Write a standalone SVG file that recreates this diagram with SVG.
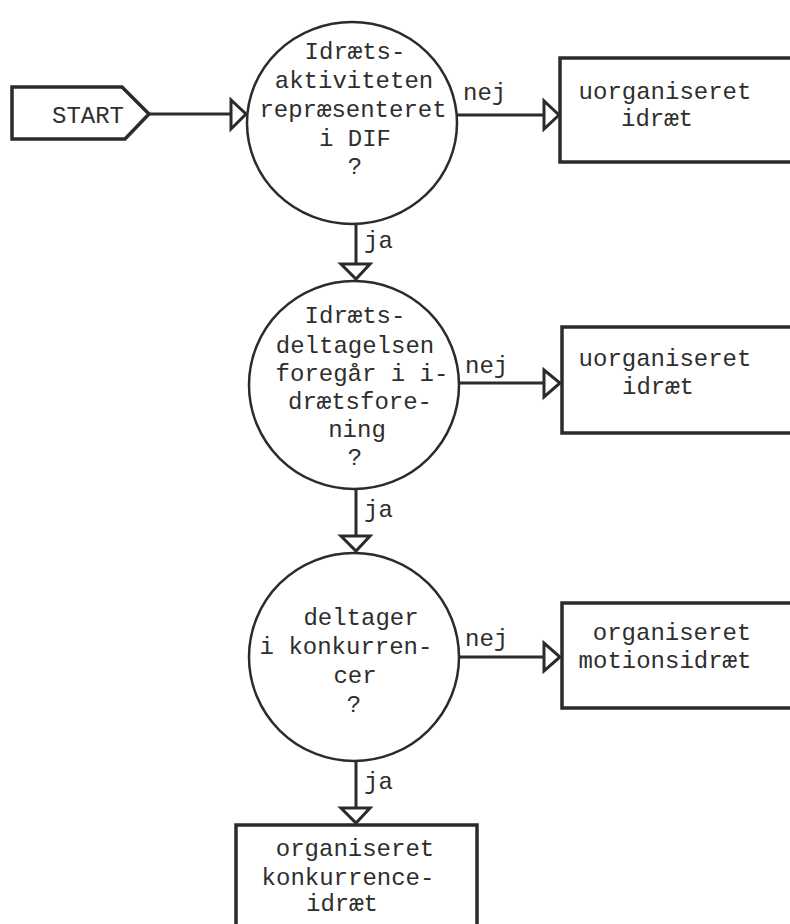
<svg xmlns="http://www.w3.org/2000/svg" width="790" height="924" viewBox="0 0 790 924">
<style>
.s{fill:none;stroke:#2b2b2b;stroke-width:3}
.c{fill:#fff;stroke:#2b2b2b;stroke-width:2.5}
.b{fill:#fff;stroke:#2b2b2b;stroke-width:3.5}
.a{fill:#fff;stroke:#2b2b2b;stroke-width:3;stroke-linejoin:miter}
text{font-family:"Liberation Mono","Courier New",monospace;font-size:24px;fill:#2e2e2e;text-anchor:middle}
.l{text-anchor:start}
</style>
<rect width="790" height="924" fill="#fff"/>
<g id="connectors">
<line class="s" x1="149" y1="114" x2="232" y2="114"/>
<polygon class="a" points="231,100 231,129 246,114"/>
<line class="s" x1="457" y1="115" x2="544" y2="115"/>
<polygon class="a" points="544,101 544,129 559,115"/>
<text class="l" x="463" y="100">nej</text>
<line class="s" x1="356" y1="224" x2="356" y2="264"/>
<polygon class="a" points="341,264 370,264 356,279"/>
<text class="l" x="364" y="248">ja</text>
<line class="s" x1="460" y1="383" x2="544" y2="383"/>
<polygon class="a" points="544,370 544,397 560,383"/>
<text class="l" x="465" y="373">nej</text>
<line class="s" x1="356" y1="489" x2="356" y2="536"/>
<polygon class="a" points="341,536 370,536 356,551"/>
<text class="l" x="364" y="517">ja</text>
<line class="s" x1="460" y1="657" x2="544" y2="657"/>
<polygon class="a" points="544,643 544,671 560,657"/>
<text class="l" x="465" y="646">nej</text>
<line class="s" x1="356" y1="762" x2="356" y2="808"/>
<polygon class="a" points="341,808 370,808 356,823"/>
<text class="l" x="364" y="789">ja</text>
</g>
<g id="start">
<polygon class="b" points="12,87 122,87 149,114 125,139 12,139"/>
<text x="88" y="123">START</text>
</g>
<g id="q1">
<ellipse class="c" cx="352" cy="123" rx="105" ry="101"/>
<text x="355" y="59">Idræts-</text>
<text x="354" y="88">aktiviteten</text>
<text x="353" y="117">repræsenteret</text>
<text x="355" y="146">i DIF</text>
<text x="355" y="174">?</text>
</g>
<g id="r1">
<rect class="b" x="560" y="58" width="240" height="104"/>
<text x="665" y="99">uorganiseret</text>
<text x="657" y="126">idræt</text>
</g>
<g id="q2">
<ellipse class="c" cx="354" cy="385" rx="105" ry="104"/>
<text x="355" y="323">Idræts-</text>
<text x="355" y="353">deltagelsen</text>
<text x="362" y="381">foregår i i-</text>
<text x="360" y="409">drætsfore-</text>
<text x="357" y="437">ning</text>
<text x="355" y="465">?</text>
</g>
<g id="r2">
<rect class="b" x="562" y="327" width="240" height="106"/>
<text x="665" y="366">uorganiseret</text>
<text x="658" y="394">idræt</text>
</g>
<g id="q3">
<ellipse class="c" cx="354" cy="657" rx="105" ry="104"/>
<text x="361" y="625">deltager</text>
<text x="346" y="654">i konkurren-</text>
<text x="355" y="683">cer</text>
<text x="354" y="712">?</text>
</g>
<g id="r3">
<rect class="b" x="562" y="603" width="240" height="105"/>
<text x="672" y="640">organiseret</text>
<text x="665" y="668">motionsidræt</text>
</g>
<g id="r4">
<rect class="b" x="236" y="825" width="241" height="120"/>
<text x="355" y="856">organiseret</text>
<text x="348" y="885">konkurrence-</text>
<text x="342" y="911">idræt</text>
</g>
</svg>
